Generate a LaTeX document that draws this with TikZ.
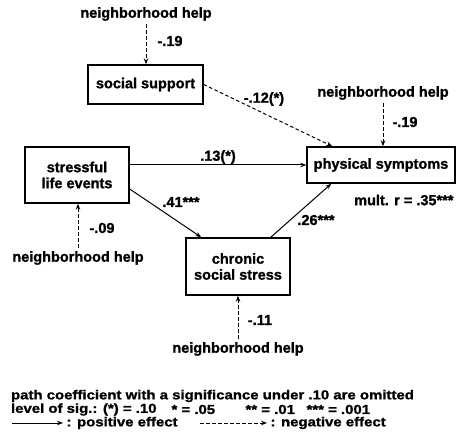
\documentclass[tikz,border=0pt]{standalone}
\usepackage{fontspec}
\setmainfont{Liberation Sans}[BoldFeatures={FakeBold=1.2}]
\newfontfamily\legendfont[FakeStretch=1.15,BoldFeatures={FakeBold=1.2}]{Liberation Sans}
\usetikzlibrary{arrows.meta,positioning}

\begin{document}
\begin{tikzpicture}[x=1pt,y=-1pt,
  font=\fontsize{14.5}{16}\selectfont\bfseries,
  box/.style={draw, line width=1.4pt, align=center, inner sep=0pt},
  posarrow/.style={-{Stealth[length=6pt,width=4.5pt]}, line width=1pt},
  negarrow/.style={posarrow, dash pattern=on 3.5pt off 2.5pt},
  legend/.style={anchor=west, font=\legendfont\fontsize{13}{13}\selectfont\bfseries}]
\useasboundingbox (0,0) rectangle (457,438);
% Boxes
\node[box, minimum width=115, minimum height=39] (social) at (145.5,84.5) {social support};
\node[box, minimum width=104, minimum height=56] (life) at (77,175) {stressful\\life events};
\node[box, minimum width=104, minimum height=57] (chronic) at (238,266.5) {chronic\\social stress};
\node[box, minimum width=148, minimum height=36] (phys) at (381,165) {physical symptoms};
% Moderator (neighborhood help)
\node (nhTop) at (146,14) {neighborhood help};
\node (nhRight) at (383,93) {neighborhood help};
\node (nhLeft) at (78,258) {neighborhood help};
\node (nhBottom) at (238,349) {neighborhood help};
\draw[negarrow] (nhTop.south) -- (nhTop.south |- social.north);
\draw[negarrow] (nhRight.south) -- (nhRight.south |- phys.north);
\draw[negarrow] (nhLeft.north) -- (nhLeft.north |- life.south);
\draw[negarrow] (nhBottom.north) -- (nhBottom.north |- chronic.south);
\node (cTop) at (170,41) {-.19};
\node (cRight) at (405,122) {-.19};
\node (cLeft) at (102,228) {-.09};
\node (cBottom) at (260,320) {-.11};
% Paths
\draw[negarrow] (social.east) -- ([xshift=26pt]phys.north west);
\draw[posarrow] (phys.west -| life.east) -- (phys.west);
\draw[posarrow] ([yshift=-14pt]life.east) -- ([xshift=16pt]chronic.north west);
\draw[posarrow] ([xshift=-20pt]chronic.north east) -- ([xshift=25pt]phys.south west);
\node (cSocial) at (264,99) {-.12(*)};
\node (cLife) at (218,157) {.13(*)};
\node (cChronic) at (181,202) {.41***};
\node (cStress) at (316,220) {.26***};
\node[anchor=east] (mult) at (457,200) {mult. r = .35***};
% Legend
\node[legend] (note) at (7.5,396) {path coefficient with a significance under .10 are omitted};
\node[legend] (sigA) at (7.5,409.5) {level of sig.: (*) = .10};
\node[legend] (sigB) at (168,409.5) {* = .05};
\node[legend] (sigC) at (242,409.5) {** = .01};
\node[legend] (sigD) at (303,409.5) {*** = .001};
\coordinate (posA) at (12,423);
\coordinate (posB) at (63,423);
\draw[posarrow] (posA) -- (posB);
\node[legend] (posTxt) at (posB) {: positive effect};
\coordinate (negA) at (200,423);
\coordinate (negB) at (267,423);
\draw[negarrow] (negA) -- (negB);
\node[legend] (negTxt) at (negB) {: negative effect};
\end{tikzpicture}
\end{document}
